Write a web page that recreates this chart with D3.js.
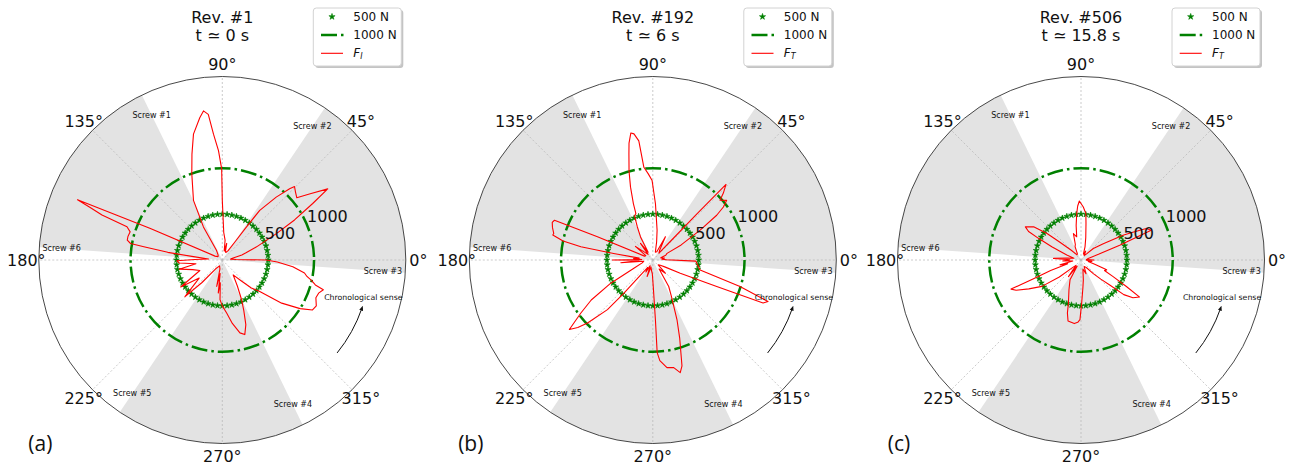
<!DOCTYPE html>
<html>
<head>
<meta charset="utf-8">
<script src="https://cdn.jsdelivr.net/npm/d3@7"></script>
<style>
  body { margin: 0; background: #fff; }
  svg { display: block; }
  text { font-family: "DejaVu Sans", sans-serif; fill: #111; }
</style>
</head>
<body>
<svg id="chart" width="1289" height="465"></svg>
<script>
// ---- chart values -------------------------------------------------------
const angleTicks = [0, 45, 90, 135, 180, 225, 270, 315];
const radialTicks = [500, 1000];
const screwNames = ['Screw #1', 'Screw #2', 'Screw #3', 'Screw #4', 'Screw #5', 'Screw #6'];
const screwAngles = [116, 56, -4, -64, 236, 176];
const shadedSectors = [[-4, 56], [116, 176], [236, 296]];
const revTitles = ['Rev. #1', 'Rev. #192', 'Rev. #506'];
const timeTitles = ['t \u2243 0 s', 't \u2243 6 s', 't \u2243 15.8 s'];
const panelLetters = ['(a)', '(b)', '(c)'];
const legendSubs = ['I', 'T', 'T'];
const legendNames = ['500 N', '1000 N'];

// [angle in degrees, thrust force in N]
const forceRev1 = [
  [0, 480], [2, 150], [6, 90], [11, 120], [14.5, 220], [17, 270], [21, 400], [26, 656],
  [29, 900], [32, 1162], [34, 1386], [37, 1200], [39.9, 1058], [43, 1090], [45.5, 1123],
  [46.6, 1068], [49.4, 903], [53, 678], [54, 420], [55, 250], [58, 120], [65, 90], [70, 100],
  [75, 187], [78, 100], [82, 218], [87, 300], [90, 650], [90.4, 993], [92, 1192], [94, 1375],
  [95.5, 1595], [97.2, 1638], [99, 1570], [102.9, 1407], [106, 1200], [109.5, 996],
  [115.8, 722], [119.7, 415], [121, 124], [130, 70], [142, 60], [152, 90], [156.4, 855],
  [157.4, 1709], [158.3, 1550], [159.5, 1400], [160.8, 1100], [163, 1050], [166, 1060],
  [168.2, 1058], [169.8, 1016], [170.4, 867], [172, 600], [173.4, 317], [176, 150],
  [179, 300], [181, 495], [184, 470], [188, 290], [192, 480], [198, 340], [205, 270],
  [213, 540], [218, 320], [224.5, 570], [228, 330], [233, 120], [245, 70], [255, 100],
  [258, 295], [261, 150], [263, 363], [265, 250], [266.7, 433], [270, 500], [274.7, 579],
  [279, 700], [283.6, 817], [286.8, 849], [290, 750], [293, 600], [295.9, 482], [300, 330],
  [306, 201], [312, 300], [316, 440], [320, 533], [324, 800], [328, 1000], [331, 1124],
  [334, 1140], [338, 1100], [341, 1110], [343.6, 1148], [345, 1050], [347, 1000],
  [349, 940], [351, 907], [354.6, 772], [358, 600]
];

const forceRev192 = [
  [1, 150], [5, 100], [10, 130], [15, 90], [20, 150], [25, 171], [28, 350], [32.2, 610],
  [35, 850], [36.9, 962], [38.9, 1035], [41.6, 980], [43.5, 1060], [45.9, 1147], [46.3, 700],
  [46.6, 300], [48, 100], [55, 130], [61.5, 288], [64, 100], [72, 90], [78, 200],
  [81.8, 328], [85, 450], [87.3, 614], [90.5, 866], [93, 940], [95.5, 1015], [96.7, 1307],
  [98.5, 1390], [99.8, 1405], [101.5, 1300], [102.7, 1184], [105, 1000], [107, 830],
  [109, 650], [110, 539], [112.5, 520], [115, 400], [118, 285], [121, 100], [126.5, 225],
  [130, 80], [136, 120], [142, 240], [148, 90], [155, 100], [157.3, 654], [158, 1156],
  [159.5, 1170], [162, 1150], [165, 1118], [166, 1123], [168, 1000], [169.6, 797],
  [170.5, 433], [172, 150], [176, 210], [178, 120], [180, 440], [182, 150], [185, 350],
  [188, 100], [195, 120], [203.7, 225], [208.9, 523], [213, 800], [216.4, 974],
  [219.8, 1184], [222, 1100], [224, 989], [227.6, 733], [229, 479], [230.5, 250], [235, 100],
  [240, 150], [245, 70], [251, 190], [256, 80], [262, 110], [268, 150], [271, 290],
  [272.5, 650], [272.7, 1011], [274, 1100], [277.5, 1183], [281, 1195], [283.7, 1263],
  [285.4, 1198], [289, 900], [292.1, 700], [297, 450], [301, 337], [305, 120], [313.5, 200],
  [318, 80], [325, 100], [330, 150], [334.3, 332], [337.5, 754], [338.7, 1290],
  [340.2, 1335], [343.1, 993], [348.1, 527], [355.7, 481], [358.5, 470]
];

const forceRev506 = [
  [0, 140], [4, 60], [12, 80], [18, 200], [21, 452], [23, 831], [25.7, 790], [28, 650],
  [30.6, 532], [36, 300], [43, 184], [48, 90], [55, 60], [62, 110], [68, 70], [73, 150],
  [78, 250], [82.2, 401], [84, 508], [87.5, 578], [91.6, 643], [93.5, 590], [95.3, 507],
  [98, 380], [100.5, 257], [106, 300], [110, 180], [114, 159], [120, 80], [128, 70],
  [135, 150], [140, 300], [142, 470], [145, 630], [149.2, 706], [151.5, 650], [153, 520],
  [155.5, 350], [160.8, 164], [166, 80], [172, 150], [176.6, 300], [179, 120], [183, 200],
  [187, 90], [193, 234], [196, 150], [199, 350], [201.5, 550], [202.6, 826], [205, 780],
  [209, 650], [214, 514], [218, 300], [222, 120], [227, 80], [233, 227], [238, 80],
  [241, 247], [248, 350], [253.7, 488], [255.6, 596], [258, 680], [264, 697], [267, 680],
  [269, 650], [270.9, 469], [274, 300], [276.7, 218], [282, 100], [290, 160], [296, 80],
  [305, 100], [312, 200], [316, 300], [319, 420], [321, 600], [324, 700], [327.7, 756],
  [329.7, 573], [332.7, 394], [336, 280], [339, 300], [343, 150], [348, 80], [353, 120],
  [357, 60]
];

const panelForces = [forceRev1, forceRev192, forceRev506];
const ring500Angles = d3.range(0, 360, 6);

// ---- layout ---------------------------------------------------------------
const svg = d3.select('#chart');
const centers = [222.3, 652.8, 1081];
const cy = 260;
const rScale = d3.scaleLinear().domain([0, 2000]).range([0, 183.5]);
const green = '#008000';
const dashDot = '16,4,2.5,4';
const rad = deg => (90 - deg) * Math.PI / 180; // d3 radial convention
const px = (deg, v) => rScale(v) * Math.cos(deg * Math.PI / 180);
const py = (deg, v) => -rScale(v) * Math.sin(deg * Math.PI / 180);

svg.append('defs').append('marker')
  .attr('id', 'arrowHead')
  .attr('viewBox', '0 0 10 10')
  .attr('refX', 5).attr('refY', 5)
  .attr('markerWidth', 5).attr('markerHeight', 5)
  .attr('orient', 'auto')
  .append('path')
  .attr('d', 'M0,1 L10,5 L0,9 Z')
  .attr('fill', '#111');

const starPath = d3.symbol().type(d3.symbolStar).size(11)();

function drawPanel(i) {
  const cx = centers[i];
  const g = svg.append('g').attr('transform', `translate(${cx},${cy})`);

  // shaded screw sectors
  const sectorArc = d3.arc().innerRadius(0).outerRadius(rScale(2000));
  g.selectAll('.sector')
    .data(shadedSectors)
    .join('path')
    .attr('d', d => sectorArc({ startAngle: rad(d[1]), endAngle: rad(d[0]) }))
    .attr('fill', '#e3e3e3');

  // angular grid
  g.selectAll('.spoke')
    .data(angleTicks)
    .join('line')
    .attr('x1', 0).attr('y1', 0)
    .attr('x2', d => px(d, 2000))
    .attr('y2', d => py(d, 2000))
    .attr('stroke', '#b5b5b5')
    .attr('stroke-width', 0.7)
    .attr('stroke-dasharray', '2,2');

  // outer frame
  g.append('circle')
    .attr('r', rScale(2000))
    .attr('fill', 'none')
    .attr('stroke', '#333')
    .attr('stroke-width', 0.9);

  // 1000 N reference
  g.append('circle')
    .attr('r', rScale(1000))
    .attr('fill', 'none')
    .attr('stroke', green)
    .attr('stroke-width', 2.5)
    .attr('stroke-dasharray', dashDot);

  // 500 N reference (star markers)
  g.selectAll('.star')
    .data(ring500Angles)
    .join('path')
    .attr('d', starPath)
    .attr('transform', d => `translate(${px(d, 500)},${py(d, 500)})`)
    .attr('fill', green)
    .attr('stroke', green)
    .attr('stroke-width', 0.6)
    .attr('stroke-linejoin', 'round');

  // measured force
  const line = d3.lineRadial()
    .angle(d => rad(d[0]))
    .radius(d => rScale(d[1]))
    .curve(d3.curveLinearClosed);
  g.append('path')
    .datum(panelForces[i])
    .attr('d', line)
    .attr('fill', 'none')
    .attr('stroke', '#ff0000')
    .attr('stroke-width', 1.1)
    .attr('stroke-linejoin', 'round');

  // angle labels
  g.selectAll('.alabel')
    .data(angleTicks)
    .join('text')
    .attr('x', d => px(d, 2000) + 12.5 * Math.cos(d * Math.PI / 180))
    .attr('y', d => py(d, 2000) - 12.5 * Math.sin(d * Math.PI / 180))
    .attr('text-anchor', 'middle')
    .attr('dominant-baseline', 'central')
    .attr('font-size', 16)
    .text(d => `${d}\u00b0`);

  // radial labels
  g.selectAll('.rlabel')
    .data(radialTicks)
    .join('text')
    .attr('x', d => px(22.5, d))
    .attr('y', d => py(22.5, d) - 3)
    .attr('font-size', 16)
    .text(d => d);

  // screw labels
  g.selectAll('.screw')
    .data(screwNames)
    .join('text')
    .attr('x', (d, j) => px(screwAngles[j], 1755))
    .attr('y', (d, j) => py(screwAngles[j], 1755))
    .attr('text-anchor', 'middle')
    .attr('dominant-baseline', 'central')
    .attr('font-size', 8)
    .text(d => d);

  // chronological sense
  g.append('text')
    .attr('x', px(-14.8, 1590))
    .attr('y', py(-14.8, 1590))
    .attr('text-anchor', 'middle')
    .attr('dominant-baseline', 'central')
    .attr('font-size', 7.8)
    .text('Chronological sense');
  const arcPath = d3.path();
  arcPath.arc(0, 0, rScale(1610), 39 * Math.PI / 180, 19 * Math.PI / 180, true);
  g.append('path')
    .attr('d', arcPath.toString())
    .attr('fill', 'none')
    .attr('stroke', '#111')
    .attr('stroke-width', 1)
    .attr('marker-end', 'url(#arrowHead)');

  // titles
  svg.append('text')
    .attr('x', cx).attr('y', 22.5)
    .attr('text-anchor', 'middle')
    .attr('font-size', 16)
    .text(revTitles[i]);
  svg.append('text')
    .attr('x', cx).attr('y', 40.5)
    .attr('text-anchor', 'middle')
    .attr('font-size', 16)
    .text(timeTitles[i]);

  // panel letter
  svg.append('text')
    .attr('x', cx - 182).attr('y', 451)
    .attr('text-anchor', 'middle')
    .style('font-family', '"Open Sans", sans-serif')
    .attr('font-size', 21)
    .text(panelLetters[i]);

  // legend
  const lg = svg.append('g').attr('transform', `translate(${cx + 91},8)`);
  lg.append('rect')
    .attr('x', 2).attr('y', 2).attr('width', 88).attr('height', 58).attr('rx', 3)
    .attr('fill', '#c4c4c4');
  lg.append('rect')
    .attr('width', 88).attr('height', 58).attr('rx', 3)
    .attr('fill', '#fff')
    .attr('stroke', '#d2d2d2')
    .attr('stroke-width', 1);
  const rows = [8.7, 27, 45.3];
  lg.append('path')
    .attr('d', d3.symbol().type(d3.symbolStar).size(12)())
    .attr('transform', `translate(18.7,${rows[0]})`)
    .attr('fill', green)
    .attr('stroke', green)
    .attr('stroke-width', 0.6);
  lg.append('line')
    .attr('x1', 7.7).attr('x2', 30.2).attr('y1', rows[1]).attr('y2', rows[1])
    .attr('stroke', green).attr('stroke-width', 2.5).attr('stroke-dasharray', dashDot);
  lg.append('line')
    .attr('x1', 7.7).attr('x2', 29.7).attr('y1', rows[2]).attr('y2', rows[2])
    .attr('stroke', '#ff0000').attr('stroke-width', 1.1);
  legendNames.forEach((name, j) => {
    lg.append('text')
      .attr('x', 40).attr('y', rows[j])
      .attr('dominant-baseline', 'central')
      .attr('font-size', 12)
      .text(name);
  });
  const ft = lg.append('text')
    .attr('x', 40).attr('y', rows[2] + 4)
    .attr('font-size', 12);
  ft.append('tspan').attr('font-style', 'italic').text('F');
  ft.append('tspan').attr('font-style', 'italic').attr('font-size', 8).attr('dy', 2).text(legendSubs[i]);
}

[0, 1, 2].forEach(drawPanel);
</script>
</body>
</html>
